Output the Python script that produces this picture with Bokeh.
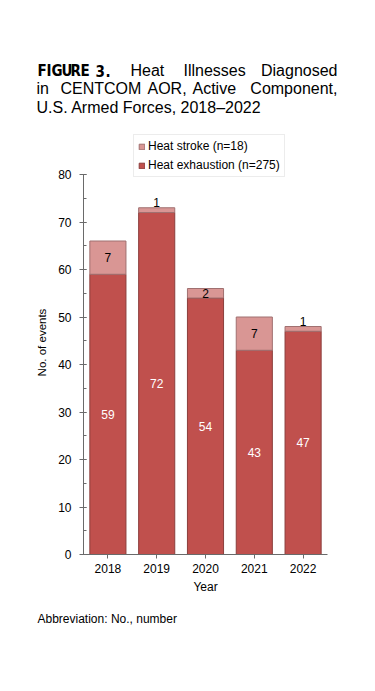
from bokeh.plotting import figure
from bokeh.layouts import column
from bokeh.models import ColumnDataSource, Legend, LegendItem, Label, SingleIntervalTicker
from bokeh.core.properties import value
from bokeh.embed import file_html
from bokeh.resources import INLINE

# ---- data ----
years = ["2018", "2019", "2020", "2021", "2022"]
heat_exhaustion = [59, 72, 54, 43, 47]
heat_stroke = [7, 1, 2, 7, 1]
y_ticks_max = 80
legend_labels = ["Heat stroke (n=18)", "Heat exhaustion (n=275)"]
y_label = "No. of events"
x_label = "Year"
title_fig = "FIGURE 3."
title_l1_words = ["Heat", "Illnesses", "Diagnosed"]
title_l2_words = ["in", "CENTCOM", "AOR,", "Active", "Component,"]
title_l3 = "U.S. Armed Forces, 2018\u20132022"
footnote = "Abbreviation: No., number"

FONT = "Liberation Sans"
C_EXH = "#C0504D"
C_STR = "#D99694"
W = 375
FRAME_LEFT = 83    # page px of y axis


def text_fig(h):
    f = figure(width=W, height=h, output_backend="svg", toolbar_location=None,
               x_axis_type=None, y_axis_type=None, min_border=0,
               x_range=(0, 1), y_range=(0, 1))
    f.outline_line_color = None
    f.grid.visible = False
    if "frame_align" in f.properties():
        f.frame_align = False
    return f


def lab(fig, fh, text, px, py, size="16px", align="left", style="normal", font=FONT):
    fig.add_layout(Label(x=px, y=fh - py, x_units="screen", y_units="screen",
                         text=text, text_font=font, text_font_size=size,
                         text_font_style=style, text_align=align,
                         text_baseline="alphabetic", text_color="black"))


# ---------------- title figure ----------------
TH = 125
L1, L2, L3 = 70, 88, 107
pt = text_fig(TH)
fig_chars = [c for c in title_fig if c != " "]
fig_x = [37, 46, 51, 61, 70, 80, 95, 105]
for c, xx in zip(fig_chars, fig_x):
    lab(pt, TH, c, xx, L1, size="15px", style="bold",
        font="'Liberation Sans Narrow', 'DejaVu Sans Condensed', 'Liberation Sans'")
for w, xx, al in zip(title_l1_words, [130, 183, 337], ["left", "left", "right"]):
    lab(pt, TH, w, xx, L1, align=al)
for w, xx, al in zip(title_l2_words, [36, 60, 147, 192, 337],
                     ["left", "left", "left", "left", "right"]):
    lab(pt, TH, w, xx, L2, align=al)
lab(pt, TH, title_l3, 36, L3)

# ---------------- main chart ----------------
MH = 475           # page y 125 .. 600
FRAME_TOP = 130    # page px
Y80_PAGE, Y0_PAGE = 174, 554
px_per_unit = (Y0_PAGE - Y80_PAGE) / y_ticks_max
y_end = y_ticks_max + (Y80_PAGE - FRAME_TOP) / px_per_unit

totals = [e + s for e, s in zip(heat_exhaustion, heat_stroke)]
src = ColumnDataSource(dict(
    year=years, e=heat_exhaustion, s=heat_stroke, total=totals,
    e_mid=[e / 2 for e in heat_exhaustion],
    e_txt=[str(e) for e in heat_exhaustion],
))
inside = [i for i, s in enumerate(heat_stroke) if s > 1]
above = [i for i, s in enumerate(heat_stroke) if s <= 1]
src_in = ColumnDataSource(dict(
    year=[years[i] for i in inside],
    y=[heat_exhaustion[i] + heat_stroke[i] / 2 for i in inside],
    t=[str(heat_stroke[i]) for i in inside]))
src_ab = ColumnDataSource(dict(
    year=[years[i] for i in above],
    y=[totals[i] for i in above],
    t=[str(heat_stroke[i]) for i in above]))

p = figure(x_range=years, y_range=(0, y_end), width=W, height=MH,
           output_backend="svg", toolbar_location=None,
           min_border_left=FRAME_LEFT, min_border_right=W - 327,
           min_border_top=FRAME_TOP - TH, min_border_bottom=TH + MH - Y0_PAGE)
p.outline_line_color = None
p.grid.visible = False
p.x_range.range_padding = 0
if "frame_align" in p.properties():
    p.frame_align = False

r_e = p.vbar(x="year", bottom=0, top="e", width=0.74, source=src,
             fill_color=C_EXH, line_color="#8B3E3C", line_width=1)
r_s = p.vbar(x="year", bottom="e", top="total", width=0.74, source=src,
             fill_color=C_STR, line_color="#A07070", line_width=1)

p.text(x="year", y="e_mid", text="e_txt", source=src, text_color="white",
       text_font=value(FONT), text_font_size="12px",
       text_align="center", text_baseline="middle")
p.text(x="year", y="y", text="t", source=src_in, text_color="black",
       text_font=value(FONT), text_font_size="12px",
       text_align="center", text_baseline="middle")
p.text(x="year", y="y", text="t", source=src_ab, text_color="black",
       text_font=value(FONT), text_font_size="12px",
       text_align="center", text_baseline="bottom", y_offset=-1)

AX = "#6A6A6A"
ya = p.yaxis[0]
ya.ticker = SingleIntervalTicker(interval=10, num_minor_ticks=2)
ya.bounds = (0, y_ticks_max)
ya.axis_line_color = AX
ya.major_tick_line_color = AX
ya.minor_tick_line_color = AX
ya.major_tick_out = 4
ya.major_tick_in = 3
ya.minor_tick_out = 0
ya.minor_tick_in = 3
ya.major_label_standoff = 8
ya.major_label_text_font = FONT
ya.major_label_text_font_size = "12px"
ya.major_label_text_color = "black"
ya.axis_label = y_label
ya.axis_label_text_font = FONT
ya.axis_label_text_font_size = "11.5px"
ya.axis_label_text_font_style = "normal"
ya.axis_label_text_color = "black"
ya.axis_label_standoff = 7

xa = p.xaxis[0]
xa.axis_line_color = AX
xa.major_tick_line_color = AX
xa.major_tick_out = 4
xa.major_tick_in = 0
xa.major_label_standoff = 5
xa.major_label_text_font = FONT
xa.major_label_text_font_size = "12px"
xa.major_label_text_color = "black"
xa.axis_label = x_label
xa.axis_label_text_font = FONT
xa.axis_label_text_font_size = "12px"
xa.axis_label_text_font_style = "normal"
xa.axis_label_text_color = "black"
xa.axis_label_standoff = 4

legend = Legend(items=[LegendItem(label=legend_labels[0], renderers=[r_s]),
                       LegendItem(label=legend_labels[1], renderers=[r_e])],
                location=(133 - FRAME_LEFT, Y0_PAGE - 177), orientation="vertical",
                label_text_font=FONT, label_text_font_size="12px",
                label_text_color="black",
                glyph_width=7, glyph_height=7, label_standoff=3,
                label_height=14, spacing=5, padding=4, margin=0,
                border_line_color="#D9D9D9", border_line_width=1,
                background_fill_alpha=1)
p.add_layout(legend)

# ---------------- footnote figure ----------------
FH = 691 - TH - MH
pf = text_fig(FH)
lab(pf, FH, footnote, 37, 618 - (TH + MH), size="12px")

layout = column(pt, p, pf, spacing=0)
open("out.html", "w").write(file_html(layout, INLINE))
